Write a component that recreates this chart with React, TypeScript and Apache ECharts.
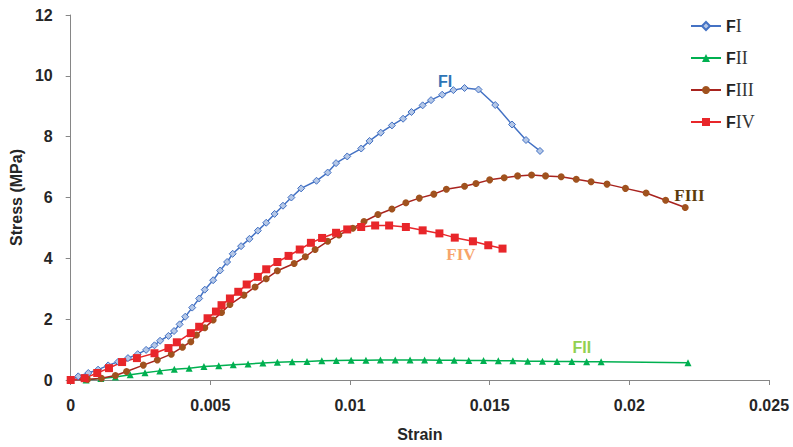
import React, { useEffect, useRef } from "react";
import * as echarts from "echarts";

const xTicks = [0, 0.005, 0.01, 0.015, 0.02, 0.025];
const yTicks = [0, 2, 4, 6, 8, 10, 12];

const seriesNames = ["FI", "FII", "FIII", "FIV"];

const fI: number[][] = [
  [0, 0], [0.00027, 0.12], [0.00063, 0.23], [0.00098, 0.34], [0.00134, 0.48],
  [0.0017, 0.6], [0.00205, 0.72], [0.0024, 0.85], [0.0027, 0.99], [0.003, 1.14],
  [0.0032, 1.29], [0.0035, 1.45], [0.0037, 1.61], [0.0039, 1.83], [0.0041, 2.08],
  [0.00435, 2.38], [0.0046, 2.68], [0.0048, 2.97], [0.0051, 3.28], [0.00535, 3.6],
  [0.0056, 3.88], [0.0058, 4.15], [0.0061, 4.4], [0.0064, 4.64], [0.0067, 4.91],
  [0.007, 5.17], [0.0073, 5.46], [0.0076, 5.73], [0.0079, 6.0], [0.00825, 6.3],
  [0.0088, 6.55], [0.0092, 6.82], [0.0095, 7.13], [0.0099, 7.35], [0.0104, 7.61],
  [0.0107, 7.86], [0.0111, 8.13], [0.0115, 8.37], [0.0119, 8.59], [0.0122, 8.81],
  [0.0126, 9.03], [0.0129, 9.2], [0.0133, 9.38], [0.0137, 9.53], [0.0141, 9.6],
  [0.0146, 9.55], [0.0152, 9.04], [0.0158, 8.4], [0.0163, 7.89], [0.0168, 7.53],
];

const fII: number[][] = [
  [0.00055, 0], [0.00108, 0.05], [0.0016, 0.1], [0.00213, 0.17], [0.00266, 0.24],
  [0.00319, 0.3], [0.00371, 0.35], [0.00424, 0.39], [0.00477, 0.44], [0.0053, 0.47],
  [0.00582, 0.5], [0.00635, 0.53], [0.00688, 0.56], [0.0074, 0.58], [0.00793, 0.6],
  [0.00846, 0.61], [0.00899, 0.63], [0.00951, 0.64], [0.01004, 0.65], [0.01057, 0.65],
  [0.01109, 0.66], [0.01162, 0.66], [0.01215, 0.66], [0.01267, 0.66], [0.0132, 0.65],
  [0.01373, 0.65], [0.01425, 0.64], [0.01478, 0.64], [0.01531, 0.63], [0.01583, 0.63],
  [0.01636, 0.62], [0.01689, 0.62], [0.01741, 0.61], [0.01794, 0.61], [0.01847, 0.6],
  [0.01899, 0.6], [0.0221, 0.57],
];

const fIII: number[][] = [
  [0, 0], [0.0006, 0.02], [0.0011, 0.06], [0.0016, 0.15], [0.002, 0.28],
  [0.0026, 0.49], [0.0031, 0.66], [0.0036, 0.85], [0.004, 1.08], [0.0043, 1.26],
  [0.0045, 1.48], [0.0048, 1.72], [0.0051, 1.97], [0.0054, 2.22], [0.0057, 2.48],
  [0.0062, 2.79], [0.0066, 3.06], [0.007, 3.33], [0.0074, 3.59], [0.008, 3.83],
  [0.0084, 4.05], [0.00875, 4.29], [0.0092, 4.56], [0.0096, 4.77], [0.0101, 4.99],
  [0.0105, 5.21], [0.011, 5.44], [0.0115, 5.62], [0.012, 5.83], [0.01248, 5.98],
  [0.013, 6.11], [0.01345, 6.27], [0.0141, 6.37], [0.01451, 6.46], [0.015, 6.58],
  [0.01552, 6.65], [0.016, 6.71], [0.0165, 6.74], [0.017, 6.71], [0.01756, 6.68],
  [0.0181, 6.6], [0.01863, 6.52], [0.0192, 6.44], [0.01986, 6.3], [0.0206, 6.15],
  [0.0213, 5.91], [0.022, 5.67],
];

const fIV: number[][] = [
  [0, 0], [0.0005, 0.06], [0.00095, 0.23], [0.00137, 0.39], [0.00184, 0.59],
  [0.00237, 0.72], [0.003, 0.88], [0.0035, 1.05], [0.0038, 1.24], [0.0043, 1.54],
  [0.0046, 1.75], [0.0049, 2.03], [0.0052, 2.25], [0.0054, 2.46], [0.0057, 2.68],
  [0.006, 2.9], [0.0063, 3.14], [0.0067, 3.39], [0.007, 3.64], [0.0074, 3.88],
  [0.0078, 4.08], [0.0082, 4.29], [0.0086, 4.51], [0.009, 4.67], [0.0095, 4.84],
  [0.0099, 4.95], [0.0104, 5.03], [0.0109, 5.08], [0.0114, 5.08], [0.012, 5.03],
  [0.0126, 4.92], [0.0132, 4.82], [0.01375, 4.68], [0.0144, 4.56], [0.01495, 4.43],
  [0.01546, 4.32],
];

// label anchor positions in data space
const labelAnchors: number[][] = [
  [0.0134, 9.8],
  [0.0183, 1.08],
  [0.02215, 6.05],
  [0.01397, 4.12],
];

const SANS = "'Liberation Sans', Arial, sans-serif";
const SERIF = "'Liberation Serif', 'Times New Roman', serif";

function markLabel(coord: number[], text: string, color: string, family: string, size: number) {
  return {
    silent: true,
    symbol: "circle",
    symbolSize: 0,
    data: [
      {
        coord,
        label: {
          show: true,
          position: "inside",
          formatter: text,
          color,
          fontFamily: family,
          fontWeight: "bold",
          fontSize: size,
        },
      },
    ],
  };
}

export default function App() {
  const ref = useRef<HTMLDivElement>(null);

  useEffect(() => {
    if (!ref.current) return;
    const chart = echarts.init(ref.current, null, { renderer: "svg" });
    const axisColor = "#868686";
    chart.setOption({
      animation: false,
      backgroundColor: "#ffffff",
      grid: { left: 64, right: 24, top: 15, bottom: 65, containLabel: false },
      legend: {
        orient: "vertical",
        left: 685,
        top: 12,
        itemWidth: 30,
        itemHeight: 10,
        itemGap: 14,
        data: seriesNames,
        formatter: (name: string) => `{f|F}{n|${name.slice(1)}}`,
        textStyle: {
          lineHeight: 18,
          rich: {
            f: { fontFamily: SANS, fontWeight: "bold", fontSize: 16, color: "#222222" },
            n: { fontFamily: SERIF, fontSize: 18, color: "#333333" },
          },
        },
      },
      xAxis: {
        type: "value",
        min: 0,
        max: 0.025,
        interval: 0.005,
        name: "Strain",
        nameLocation: "middle",
        nameGap: 46,
        nameTextStyle: { fontFamily: SANS, fontWeight: "bold", fontSize: 16, color: "#262626" },
        axisLine: { show: true, lineStyle: { color: axisColor, width: 1 } },
        axisTick: { show: true, length: 5, lineStyle: { color: axisColor } },
        axisLabel: {
          margin: 17,
          fontFamily: SANS,
          fontWeight: "bold",
          fontSize: 16,
          color: "#262626",
          formatter: (v: number) => {
            const t = xTicks.find((x) => Math.abs(x - v) < 1e-9);
            return String(t !== undefined ? t : v);
          },
        },
        splitLine: { show: false },
      },
      yAxis: {
        type: "value",
        min: 0,
        max: 12,
        interval: 2,
        name: "Stress (MPa)",
        nameLocation: "middle",
        nameGap: 38,
        nameTextStyle: { fontFamily: SANS, fontWeight: "bold", fontSize: 16, color: "#262626" },
        axisLine: { show: true, lineStyle: { color: axisColor, width: 1 } },
        axisTick: { show: true, length: 5, lineStyle: { color: axisColor } },
        axisLabel: {
          margin: 18,
          fontFamily: SANS,
          fontWeight: "bold",
          fontSize: 16,
          color: "#262626",
          formatter: (v: number) => {
            const t = yTicks.find((y) => Math.abs(y - v) < 1e-9);
            return String(t !== undefined ? t : v);
          },
        },
        splitLine: { show: false },
      },
      series: [
        {
          name: seriesNames[0],
          type: "line",
          data: fI,
          symbol: "diamond",
          symbolSize: 7,
          lineStyle: { color: "#4472C4", width: 1.5 },
          itemStyle: { color: "#B4C7E7", borderColor: "#4472C4", borderWidth: 1 },
          markPoint: markLabel(labelAnchors[0], "FI", "#2E75B6", SANS, 16),
        },
        {
          name: seriesNames[1],
          type: "line",
          data: fII,
          symbol: "triangle",
          symbolSize: 7,
          lineStyle: { color: "#00B050", width: 1.5 },
          itemStyle: { color: "#00B050" },
          markPoint: markLabel(labelAnchors[1], "FII", "#92D050", SANS, 16),
        },
        {
          name: seriesNames[2],
          type: "line",
          data: fIII,
          symbol: "circle",
          symbolSize: 7,
          lineStyle: { color: "#A8231E", width: 1.5 },
          itemStyle: { color: "#A0521E" },
          markPoint: markLabel(labelAnchors[2], "FIII", "#5C3B0B", SERIF, 17),
        },
        {
          name: seriesNames[3],
          type: "line",
          data: fIV,
          symbol: "rect",
          symbolSize: 8,
          lineStyle: { color: "#E8262A", width: 1.5 },
          itemStyle: { color: "#E8262A" },
          markPoint: markLabel(labelAnchors[3], "FIV", "#F7A46B", SERIF, 17),
        },
      ],
    });
    return () => chart.dispose();
  }, []);

  return <div ref={ref} style={{ width: 793, height: 447, position: "absolute", left: 0, top: 0 }} />;
}
